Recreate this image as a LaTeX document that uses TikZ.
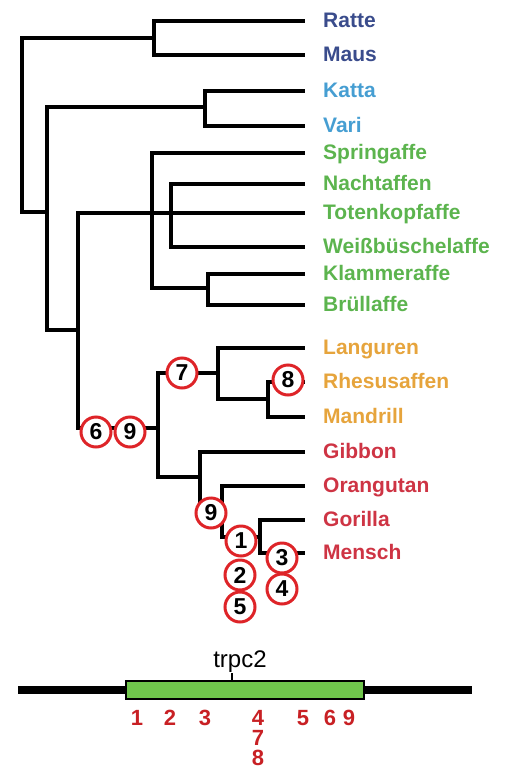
\documentclass[tikz,border=0pt]{standalone}
\usepackage{fontspec}
\setmainfont{Liberation Sans}
\usepackage{tikz}
\usetikzlibrary{positioning}
\definecolor{rodblue}{RGB}{58,76,140}
\definecolor{lemblue}{RGB}{70,158,210}
\definecolor{nwgreen}{RGB}{92,180,78}
\definecolor{owyellow}{RGB}{230,164,60}
\definecolor{apered}{RGB}{206,52,68}
\definecolor{mutred}{RGB}{222,36,40}
\definecolor{genegreen}{RGB}{112,198,76}

\begin{document}
\begin{tikzpicture}[x=1pt, y=-1pt,
  branch/.style={line width=4pt, line cap=rect},
  lab/.style={font=\fontsize{21}{24}\selectfont\bfseries, inner sep=0pt,
              text height=0.72em, text depth=0pt, yshift=-3pt},
  mut/.style={circle, draw=mutred, line width=3pt, fill=white, inner sep=0pt,
              minimum size=30pt, font=\fontsize{23}{26}\selectfont\bfseries},
  posnum/.style={text=mutred!90!black, font=\fontsize{22}{24}\selectfont\bfseries,
                 inner sep=0pt}]
  \useasboundingbox (0,0) rectangle (510,769);
  % leaves (tips and names)
  \foreach \name/\txt/\y/\col in {ratte/Ratte/21/rodblue, maus/Maus/55/rodblue,
      katta/Katta/91/lemblue, vari/Vari/126/lemblue,
      spring/Springaffe/153/nwgreen, nacht/Nachtaffen/184/nwgreen,
      toten/Totenkopfaffe/213/nwgreen, weiss/Weißbüschelaffe/247/nwgreen,
      klammer/Klammeraffe/274/nwgreen, bruell/Brüllaffe/305/nwgreen,
      langur/Languren/348/owyellow, rhesus/Rhesusaffen/382/owyellow,
      mandrill/Mandrill/417/owyellow,
      gibbon/Gibbon/452/apered, orang/Orangutan/486/apered,
      gorilla/Gorilla/520/apered, mensch/Mensch/553/apered} {
    \coordinate (\name) at (303,\y);
    \node[lab, text=\col, right=20pt of \name] (\name-l) {\txt};
  }
  % inner nodes
  \coordinate (rod) at (154,38);
  \coordinate (root) at (22,125);
  \coordinate (lem) at (205,107);
  \coordinate (prim) at (47,212);
  \coordinate (anth) at (78,330);
  \coordinate (nw) at (152,212);
  \coordinate (nwb) at (171,213);
  \coordinate (klam) at (208,288);
  \coordinate (ow) at (158,428);
  \coordinate (cerc) at (218,373);
  \coordinate (pap) at (268,399);
  \coordinate (hom) at (200,477);
  \coordinate (gape) at (222,513);
  \coordinate (homi) at (260,537);
  % branches
  \draw[branch] (ratte) -| (rod) |- (maus);
  \draw[branch] (rod) -| (root) |- (prim);
  \draw[branch] (katta) -| (lem) |- (vari);
  \draw[branch] (lem) -| (prim) |- (anth);
  \draw[branch] (toten) -| (anth) |- (ow);
  \draw[branch] (spring) -| (nw) |- (klam);
  \draw[branch] (nacht) -| (nwb) |- (weiss);
  \draw[branch] (klammer) -| (klam) |- (bruell);
  \draw[branch] (cerc) -| (ow) |- (hom);
  \draw[branch] (langur) -| (cerc) |- (pap);
  \draw[branch] (rhesus) -| (pap) |- (mandrill);
  \draw[branch] (gibbon) -| (hom) |- (gape);
  \draw[branch] (orang) -| (gape) |- (homi);
  \draw[branch] (gorilla) -| (homi) |- (mensch);
  % mutations on the branches
  \foreach \name/\n/\x/\y in {m6/6/96/432, m9a/9/130/432, m7/7/182/373,
      m8/8/288/380, m9b/9/211/513, m1/1/241/541, m2/2/240/575,
      m5/5/240/607, m3/3/282/558, m4/4/282/589}
    \node[mut] (\name) at (\x,\y) {\n};
  % gene
  \node[draw, line width=2.4pt, fill=genegreen, minimum width=238pt,
        minimum height=18pt, inner sep=0pt] (trpc) at (245,690) {};
  \coordinate (dna-l) at (18,690);
  \coordinate (dna-r) at (472,690);
  \draw[line width=8pt] (dna-l) -- (trpc.west);
  \draw[line width=8pt] (trpc.east) -- (dna-r);
  \node[font=\fontsize{24}{26}\selectfont, inner sep=0pt] (trpc-lab) at (240,662) {trpc2};
  \coordinate (tick) at (232,681);
  \draw[line width=1.5pt] (tick) -- (tick |- trpc-lab.south);
  % positions in the gene
  \foreach \n/\x/\y in {1/137/718, 2/170/718, 3/205/718, 4/258/718,
      5/303/718, 6/330/718, 9/349/718, 7/258/738, 8/258/758}
    \node[posnum] (p\n) at (\x,\y) {\n};
\end{tikzpicture}
\end{document}
